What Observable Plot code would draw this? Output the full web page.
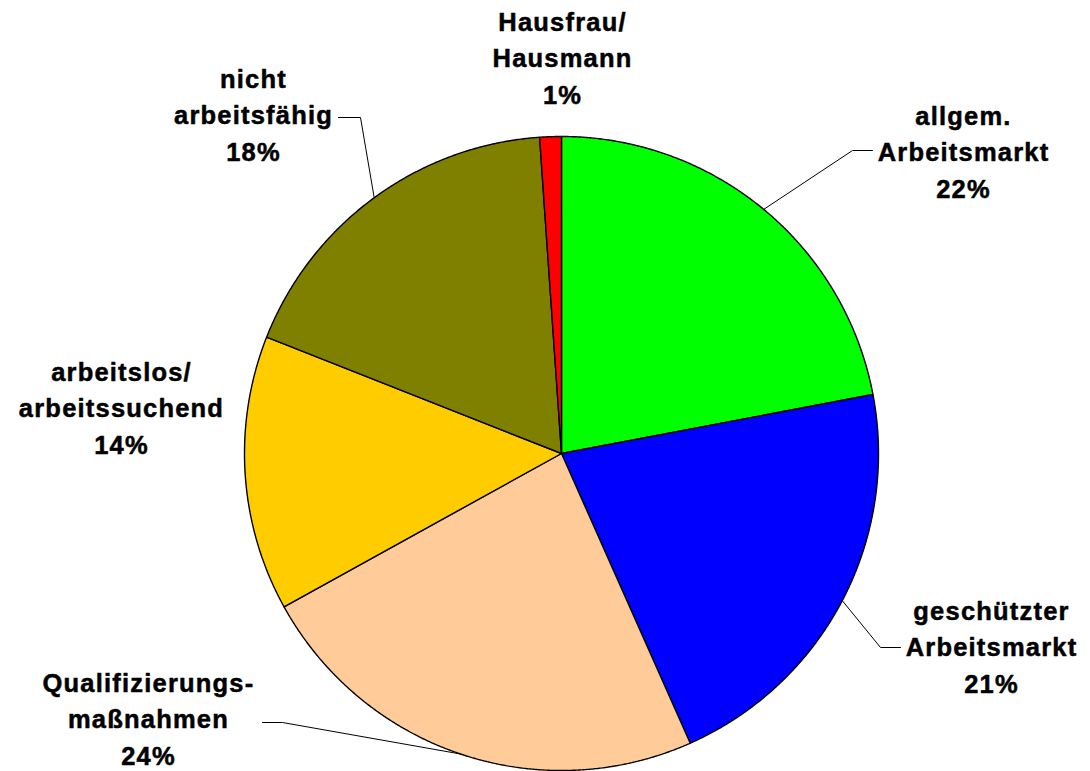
<!DOCTYPE html>
<html>
<head>
<meta charset="utf-8">
<script src="https://cdn.jsdelivr.net/npm/d3@7"></script>
<script src="https://cdn.jsdelivr.net/npm/@observablehq/plot@0.6"></script>
<style>
  html, body { margin: 0; padding: 0; background: #ffffff; }
  #chart svg { display: block; }
</style>
</head>
<body>
<div id="chart"></div>
<script>
// ---- data ----
const categories = [
  "allgem. Arbeitsmarkt",
  "geschützter Arbeitsmarkt",
  "Qualifizierungsmaßnahmen",
  "arbeitslos/arbeitssuchend",
  "nicht arbeitsfähig",
  "Hausfrau/Hausmann"
];
const labelLines = [
  "allgem.\nArbeitsmarkt",
  "geschützter\nArbeitsmarkt",
  "Qualifizierungs-\nmaßnahmen",
  "arbeitslos/\narbeitssuchend",
  "nicht\narbeitsfähig",
  "Hausfrau/\nHausmann"
];
const shares = [22.0, 21.3, 23.6, 14.0, 17.9, 1.1];
const palette = ["#00FF00", "#0000FF", "#FFCC99", "#FFCC00", "#808000", "#FF0000"];

// ---- layout (pixel units relative to pie centre, y up) ----
const W = 1090, H = 771;
const CX = 561, CY = 453, R = 317;
const labelPos = {
  "allgem. Arbeitsmarkt":      {text: [402, 304], leader: [[291, 303], [311, 303]]},
  "geschützter Arbeitsmarkt":  {text: [430, -191], leader: [[319, -194], [339, -194]]},
  "Qualifizierungsmaßnahmen":  {text: [-413, -263], leader: [[-279, -269], [-299, -269]]},
  "arbeitslos/arbeitssuchend": {text: [-440, 48], leader: null},
  "nicht arbeitsfähig":        {text: [-308, 341], leader: [[-201, 336], [-223, 336]]},
  "Hausfrau/Hausmann":         {text: [1, 398], leader: null}
};

const total = d3.sum(shares);
const arcs = d3.pie().sort(null).value(d => d)(shares);

// slice outlines
const slicePts = [];
arcs.forEach((a, i) => {
  const cat = categories[i];
  slicePts.push({cat, x: 0, y: 0});
  const n = Math.max(2, Math.ceil((a.endAngle - a.startAngle) / 0.005));
  for (let k = 0; k <= n; k++) {
    const t = a.startAngle + (a.endAngle - a.startAngle) * k / n;
    slicePts.push({cat, x: R * Math.sin(t), y: R * Math.cos(t)});
  }
  slicePts.push({cat, x: 0, y: 0});
});

// leader lines
const leaderPts = [];
arcs.forEach((a, i) => {
  const cat = categories[i];
  const L = labelPos[cat].leader;
  if (!L) return;
  const m = (a.startAngle + a.endAngle) / 2;
  leaderPts.push({cat, x: R * Math.sin(m), y: R * Math.cos(m)});
  L.forEach(p => leaderPts.push({cat, x: p[0], y: p[1]}));
});

// labels
const labels = categories.map((cat, i) => ({
  cat,
  x: labelPos[cat].text[0],
  y: labelPos[cat].text[1],
  text: labelLines[i] + "\n" + Math.round(shares[i] / total * 100) + "%"
}));

const chart = Plot.plot({
  width: W,
  height: H,
  margin: 0,
  x: {domain: [-CX, W - CX], axis: null},
  y: {domain: [-(H - CY), CY], axis: null},
  color: {domain: categories, range: palette},
  style: {background: "#ffffff", fontFamily: "'Liberation Sans', Arial, Helvetica, sans-serif", letterSpacing: "1.2px"},
  marks: [
    Plot.line(slicePts, {x: "x", y: "y", z: "cat", fill: "cat", stroke: "#000000", strokeWidth: 1.4, strokeLinejoin: "miter"}),
    Plot.line(leaderPts, {x: "x", y: "y", z: "cat", stroke: "#000000", strokeWidth: 1, strokeLinejoin: "miter"}),
    Plot.text(labels, {
      x: "x", y: "y", text: "text",
      fontSize: 25.5, fontWeight: "bold", lineHeight: 1.43,
      lineAnchor: "middle", textAnchor: "middle",
      fill: "#000000", stroke: "#000000", strokeWidth: 0.5
    })
  ]
});
document.getElementById("chart").appendChild(chart);
</script>
</body>
</html>
